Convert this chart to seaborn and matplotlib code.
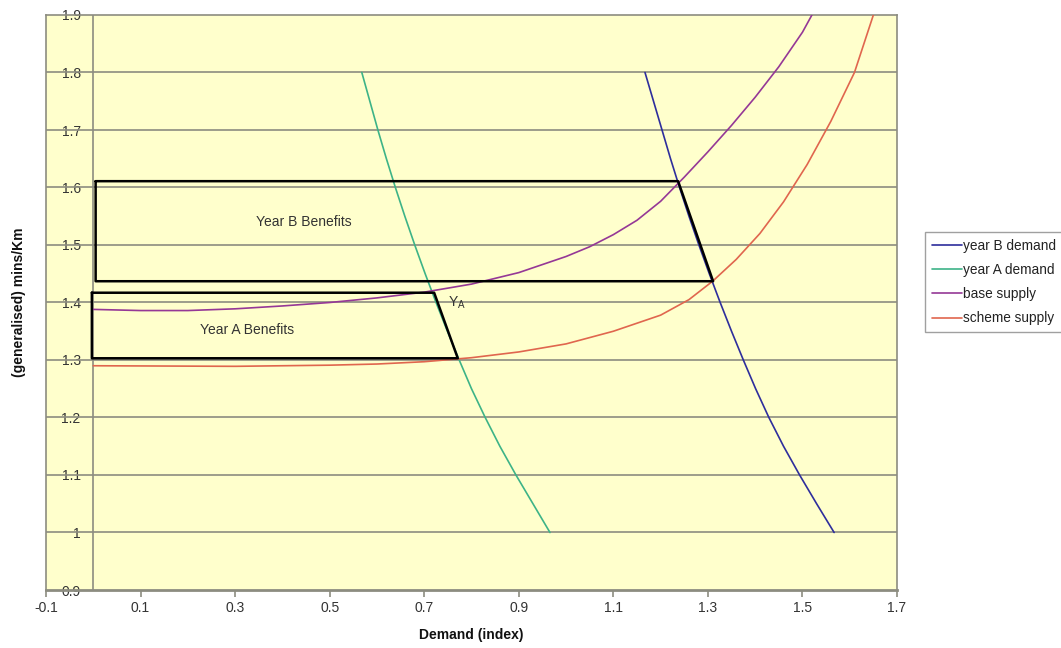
import matplotlib
matplotlib.use('Agg')
import matplotlib.pyplot as plt
import seaborn as sns
import numpy as np

# demand curves, x read at fixed price levels
price_levels = [1.80, 1.75, 1.70, 1.65, 1.60, 1.55, 1.50, 1.45, 1.40,
                1.35, 1.30, 1.25, 1.20, 1.15, 1.10, 1.05, 1.00]
year_b_demand = [1.167, 1.185, 1.203, 1.221, 1.240, 1.260, 1.281, 1.303, 1.326,
                 1.350, 1.375, 1.401, 1.429, 1.460, 1.494, 1.530, 1.567]
year_a_demand = [0.568, 0.585, 0.602, 0.620, 0.639, 0.659, 0.680, 0.702, 0.725,
                 0.749, 0.774, 0.800, 0.829, 0.860, 0.894, 0.930, 0.966]

# supply curves
base_x = [0.0, 0.1, 0.2, 0.3, 0.4, 0.5, 0.6, 0.7, 0.8, 0.9, 1.0, 1.05, 1.1, 1.15,
          1.2, 1.25, 1.3, 1.35, 1.4, 1.45, 1.5, 1.52]
base_y = [1.388, 1.386, 1.386, 1.389, 1.394, 1.400, 1.408, 1.418, 1.432, 1.452, 1.480,
          1.497, 1.518, 1.543, 1.576, 1.618, 1.662, 1.708, 1.757, 1.810, 1.870, 1.900]
scheme_x = [0.0, 0.3, 0.5, 0.6, 0.7, 0.8, 0.9, 1.0, 1.1, 1.2, 1.26, 1.31, 1.36,
            1.41, 1.46, 1.51, 1.56, 1.61, 1.65]
scheme_y = [1.290, 1.289, 1.291, 1.293, 1.297, 1.304, 1.314, 1.328, 1.350, 1.378,
            1.405, 1.437, 1.475, 1.520, 1.575, 1.640, 1.715, 1.800, 1.900]

# benefit boxes (closed outlines)
year_b_box_x = [0.005, 1.237, 1.311, 0.005, 0.005]
year_b_box_y = [1.611, 1.611, 1.437, 1.437, 1.611]
year_a_box_x = [-0.003, 0.721, 0.771, -0.003, -0.003]
year_a_box_y = [1.417, 1.417, 1.303, 1.303, 1.417]

colors = {'year B demand': '#2E2E9C', 'year A demand': '#3DB387',
          'base supply': '#953896', 'scheme supply': '#E0664E'}

sns.set_style('white')
plt.rcParams['font.family'] = ['Liberation Sans', 'DejaVu Sans']

fig = plt.figure(figsize=(10.61, 6.48), dpi=100)
ax = fig.add_axes([46 / 1061, 1 - 590 / 648, 851 / 1061, 575 / 648])
ax.set_facecolor('#FFFFCC')

grid_c = '#8C8C80'
for yv in np.arange(1.0, 1.9, 0.1):
    ax.axhline(yv, color=grid_c, lw=1.2, zorder=1)
ax.axvline(0, color=grid_c, lw=1.2, zorder=1)

sns.lineplot(x=year_b_demand, y=price_levels, sort=False, estimator=None,
             color=colors['year B demand'], lw=1.2, label='year B demand', ax=ax, zorder=3)
sns.lineplot(x=year_a_demand, y=price_levels, sort=False, estimator=None,
             color=colors['year A demand'], lw=1.2, label='year A demand', ax=ax, zorder=3)
sns.lineplot(x=base_x, y=base_y, sort=False, estimator=None,
             color=colors['base supply'], lw=1.2, label='base supply', ax=ax, zorder=3)
sns.lineplot(x=scheme_x, y=scheme_y, sort=False, estimator=None,
             color=colors['scheme supply'], lw=1.2, label='scheme supply', ax=ax, zorder=3)

ax.plot(year_b_box_x, year_b_box_y, color='black', lw=1.8, zorder=4)
ax.plot(year_a_box_x, year_a_box_y, color='black', lw=1.8, zorder=4)

ax.text(0.446, 1.54, 'Year B Benefits', ha='center', va='center', fontsize=10, color='#333333')
ax.text(0.325, 1.352, 'Year A Benefits', ha='center', va='center', fontsize=10, color='#333333')
ax.text(0.77, 1.40, r'Y$_\mathregular{A}$', ha='center', va='center', fontsize=10, color='#333333')

ax.set_xlim(-0.1, 1.7)
ax.set_ylim(0.9, 1.9)
ax.set_xticks(np.round(np.arange(-0.1, 1.71, 0.2), 1))
ax.set_xticklabels(['-0.1', '0.1', '0.3', '0.5', '0.7', '0.9', '1.1', '1.3', '1.5', '1.7'])
yt = np.round(np.arange(0.9, 1.91, 0.1), 1)
ax.set_yticks(yt)
ax.set_yticklabels(['0.9', '1', '1.1', '1.2', '1.3', '1.4', '1.5', '1.6', '1.7', '1.8', '1.9'])
ax.tick_params(axis='x', direction='out', length=5, width=1.2, color=grid_c,
               labelsize=10, labelcolor='#333333', pad=3, bottom=True)
ax.tick_params(axis='y', length=0, labelsize=10, labelcolor='#333333', pad=-25)
for s in ax.spines.values():
    s.set_color(grid_c)
    s.set_linewidth(1.2)
ax.spines['bottom'].set_linewidth(2)

ax.set_xlabel('Demand (index)', fontsize=10, fontweight='bold', color='#111111', labelpad=9)
ax.set_ylabel('(generalised) mins/Km', fontsize=10, fontweight='bold', color='#111111')
ax.yaxis.set_label_coords(-0.023, 0.5)

handles, labels = ax.get_legend_handles_labels()
ax.get_legend().remove()
leg = fig.legend(handles, labels, loc='upper left', bbox_to_anchor=(925 / 1061, 1 - 232 / 648),
                 frameon=True, fancybox=False, fontsize=9.8, handlelength=2.2,
                 handletextpad=0.1, borderpad=0.5, labelspacing=0.75, borderaxespad=0)
leg.get_frame().set_edgecolor('#888888')
leg.get_frame().set_linewidth(1)
for t in leg.get_texts():
    t.set_color('#222222')

fig.savefig('out.png', dpi=100, facecolor='white')
